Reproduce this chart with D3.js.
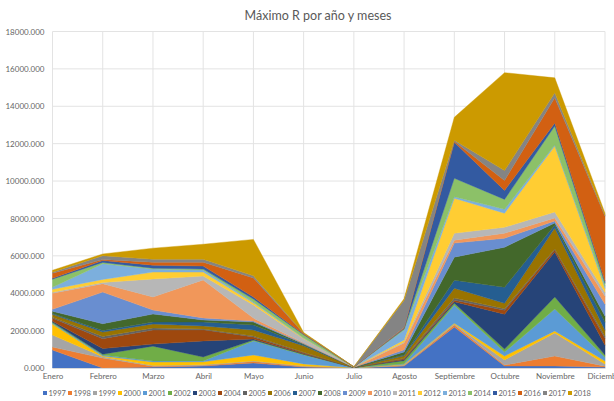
<!DOCTYPE html>
<html>
<head>
<meta charset="utf-8">
<script src="https://cdn.jsdelivr.net/npm/d3@7"></script>
<style>
  body { margin: 0; background: #fff; }
  text { font-family: Lato, "Open Sans", sans-serif; }
</style>
</head>
<body>
<div id="container"></div>
<script>
/* DATA */
const months = ["Enero", "Febrero", "Marzo", "Abril", "Mayo", "Junio", "Julio", "Agosto", "Septiembre", "Octubre", "Noviembre", "Diciembre"]
const years = ["1997", "1998", "1999", "2000", "2001", "2002", "2003", "2004", "2005", "2006", "2007",
  "2008", "2009", "2010", "2011", "2012", "2013", "2014", "2015", "2016", "2017", "2018"]
const yTicks = [0, 2000, 4000, 6000, 8000, 10000, 12000, 14000, 16000, 18000]

// one array per year, Enero..Diciembre
const v1997 = [960, 0, 50, 110, 270, 50, 10, 110, 2190, 110, 110, 50]
const v1998 = [160, 530, 50, 30, 80, 30, 0, 30, 110, 50, 530, 50]
const v1999 = [640, 70, 30, 30, 30, 30, 0, 30, 50, 270, 1230, 110]
const v2000 = [590, 40, 190, 160, 320, 110, 0, 30, 50, 210, 110, 160]
const v2001 = [50, 50, 50, 50, 750, 480, 20, 30, 960, 210, 1180, 210]
const v2002 = [50, 50, 800, 210, 50, 30, 0, 160, 110, 160, 640, 110]
const v2003 = [50, 300, 110, 860, 50, 30, 0, 50, 80, 1870, 2410, 530]
const v2004 = [160, 530, 750, 590, 110, 50, 0, 50, 80, 210, 110, 370]
const v2005 = [50, 120, 110, 50, 50, 30, 0, 30, 110, 80, 50, 110]
const v2006 = [160, 230, 210, 160, 320, 350, 15, 130, 530, 290, 1120, 320]
const v2007 = [50, 90, 110, 210, 270, 50, 0, 50, 430, 860, 160, 430]
const v2008 = [110, 360, 430, 110, 160, 50, 0, 160, 1230, 2140, 110, 320]
const v2009 = [110, 1690, 210, 110, 50, 30, 0, 110, 750, 480, 110, 640]
const v2010 = [860, 450, 700, 2030, 160, 30, 0, 370, 160, 270, 160, 430]
const v2011 = [50, 70, 960, 210, 700, 210, 10, 50, 370, 320, 320, 210]
const v2012 = [160, 160, 370, 210, 110, 30, 0, 110, 1870, 750, 3530, 210]
const v2013 = [110, 840, 160, 110, 50, 30, 0, 530, 80, 210, 50, 110]
const v2014 = [430, 70, 50, 50, 160, 160, 0, 50, 990, 530, 1020, 160]
const v2015 = [50, 100, 160, 160, 110, 30, 0, 50, 1930, 480, 160, 110]
const v2016 = [270, 50, 160, 210, 1020, 30, 0, 30, 50, 530, 1340, 3480]
const v2017 = [50, 210, 160, 160, 110, 20, 10, 1470, 50, 530, 270, 50]
const v2018 = [110, 90, 590, 800, 1950, 40, 0, 80, 1230, 5240, 800, 110]

const series = [v1997, v1998, v1999, v2000, v2001, v2002, v2003, v2004, v2005, v2006, v2007,
  v2008, v2009, v2010, v2011, v2012, v2013, v2014, v2015, v2016, v2017, v2018]

const colors = ["#4472C4", "#ED7D31", "#A5A5A5", "#FFC000", "#5B9BD5", "#70AD47", "#264478", "#9E480E",
  "#636363", "#997300", "#255E91", "#43682B", "#698ED0", "#F1975A", "#B7B7B7", "#FFCD33",
  "#7CAFDD", "#8CC168", "#335AA1", "#D26012", "#848484", "#CC9A00"]

/* CONSTANTS */
const width = 614, height = 401
const margin = { top: 31.5, bottom: 33, left: 52.5, right: 9 }

// build a table the stack generator can read
const table = months.map((m, i) => {
  const row = { month: m }
  years.forEach((y, j) => { row[y] = series[j][i] })
  return row
})

const stack = d3.stack().keys(years)
const layers = stack(table)

// SCALES
const xScale = d3.scalePoint()
  .domain(months)
  .range([margin.left, width - margin.right])

const yScale = d3.scaleLinear()
  .domain([0, 18000])
  .range([height - margin.bottom, margin.top])

const colorScale = d3.scaleOrdinal().domain(years).range(colors)

// SVG
const svg = d3.select("#container")
  .append("svg")
  .attr("width", width)
  .attr("height", height)

// GRID
svg.append("g")
  .selectAll("line")
  .data(yTicks)
  .join("line")
  .attr("x1", margin.left)
  .attr("x2", width - margin.right)
  .attr("y1", d => yScale(d))
  .attr("y2", d => yScale(d))
  .attr("stroke", "#e3e3e3")
  .attr("stroke-width", 1)

svg.append("g")
  .selectAll("line")
  .data(months)
  .join("line")
  .attr("x1", d => xScale(d))
  .attr("x2", d => xScale(d))
  .attr("y1", yScale(0))
  .attr("y2", yScale(18000))
  .attr("stroke", "#e3e3e3")
  .attr("stroke-width", 1)

// AREAS
const areaGen = d3.area()
  .x(d => xScale(d.data.month))
  .y0(d => yScale(d[0]))
  .y1(d => yScale(d[1]))

svg.append("g")
  .selectAll("path")
  .data(layers)
  .join("path")
  .attr("d", areaGen)
  .attr("fill", d => colorScale(d.key))
  .attr("stroke", d => colorScale(d.key))
  .attr("stroke-width", 0.4)

// AXES
const yAxis = d3.axisLeft(yScale)
  .tickValues(yTicks)
  .tickFormat(d3.format(".3f"))
  .tickSize(0)
  .tickPadding(8)

svg.append("g")
  .attr("transform", `translate(${margin.left}, 0)`)
  .call(yAxis)
  .call(g => g.select(".domain").remove())
  .selectAll("text")
  .style("font-size", "8px")
  .attr("fill", "#666")

// x labels; "Diciembre" runs off the right edge as in the original
const xAxis = d3.axisBottom(xScale)
  .tickSize(0)
  .tickPadding(5)

svg.append("g")
  .attr("transform", `translate(0, ${yScale(0)})`)
  .call(xAxis)
  .call(g => g.select(".domain").attr("stroke", "#d9d9d9"))
  .selectAll("text")
  .style("font-size", "8px")
  .attr("fill", "#666")

// TITLE
svg.append("text")
  .attr("text-anchor", "middle")
  .attr("x", 318)
  .attr("y", 20)
  .style("font-size", "12.5px")
  .attr("fill", "#595959")
  .text("Máximo R por año y meses")

// LEGEND
const legend = svg.append("g")
  .selectAll("g")
  .data(years)
  .join("g")
  .attr("transform", (d, i) => `translate(${43 + i * 25}, 395)`)

legend.append("rect")
  .attr("x", 0)
  .attr("y", -4)
  .attr("width", 4)
  .attr("height", 4)
  .attr("fill", d => colorScale(d))

legend.append("text")
  .attr("x", 5.5)
  .attr("y", 0.5)
  .style("font-size", "7.5px")
  .attr("fill", "#666")
  .text(d => d)
</script>
</body>
</html>
